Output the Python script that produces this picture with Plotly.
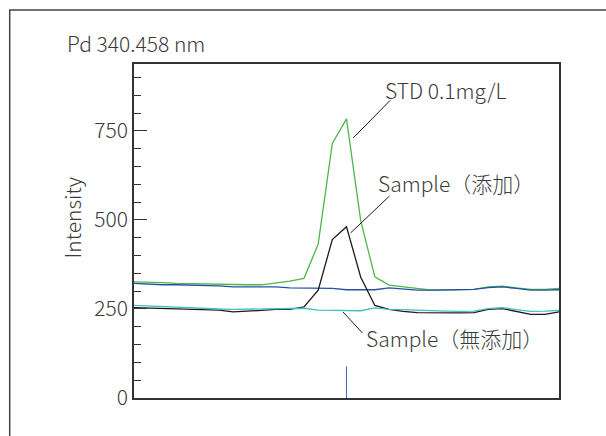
import plotly.graph_objects as go

# ---- data ----
x_idx = list(range(31))
std_01 = [326, 326, 324, 322, 321, 320, 318, 318, 318, 318, 322, 328, 336, 432, 715,
          784, 499, 340, 317, 312, 306, 303, 303, 303, 305, 312, 314, 309, 305, 305, 308]
blank = [322, 319, 318, 318, 317, 317, 315, 312, 312, 312, 312, 309, 308, 308, 308,
         304, 303, 304, 309, 306, 303, 303, 303, 303, 305, 310, 312, 308, 303, 303, 304]
sample_plain = [260, 258, 257, 256, 253, 251, 250, 249, 250, 250, 250, 251, 252, 247, 246,
                245, 245, 253, 249, 248, 246, 245, 244, 243, 244, 251, 254, 248, 243, 244, 246]
sample_spiked = [254, 253, 252, 251, 249, 247, 247, 242, 243, 246, 249, 249, 256, 303, 445,
                 481, 340, 260, 249, 243, 240, 239, 239, 239, 240, 249, 251, 243, 235, 235, 242]
peak_pos_x = [15, 15]
peak_pos_y = [0, 89]
y_major = [0, 250, 500, 750]

W, H = 606, 436
L, R, T, B = 134.3, 559.3, 64, 397.7
FONT = "Noto Sans CJK JP"
TXT = "#3a3a3a"
FS = 21


def px(xp):
    return (xp - L) / (R - L)


def py(yp):
    return (B - yp) / (B - T)


fig = go.Figure()
fig.add_trace(go.Scatter(x=x_idx, y=std_01, mode="lines",
                         line=dict(color="#4db748", width=1.3), hoverinfo="skip"))
fig.add_trace(go.Scatter(x=x_idx, y=blank, mode="lines",
                         line=dict(color="#2451a3", width=1.3), hoverinfo="skip"))
fig.add_trace(go.Scatter(x=x_idx, y=sample_spiked, mode="lines",
                         line=dict(color="#231815", width=1.3), hoverinfo="skip"))
fig.add_trace(go.Scatter(x=x_idx, y=sample_plain, mode="lines",
                         line=dict(color="#3fc1c0", width=1.3), hoverinfo="skip"))
fig.add_trace(go.Scatter(x=peak_pos_x, y=peak_pos_y, mode="lines",
                         line=dict(color="#4a68b8", width=1), hoverinfo="skip"))

shapes = [
    # outer frame
    dict(type="rect", xref="paper", yref="paper", x0=px(10), x1=px(640), y0=py(10), y1=py(470),
         line=dict(color="#444444", width=1.5), layer="below"),
    # leader lines
    dict(type="line", xref="paper", yref="paper", x0=px(353.6), y0=py(137.8), x1=px(390.5), y1=py(100.3),
         line=dict(color="#231815", width=1)),
    dict(type="line", xref="paper", yref="paper", x0=px(351), y0=py(232.7), x1=px(389.7), y1=py(196),
         line=dict(color="#231815", width=1)),
    dict(type="line", xref="paper", yref="paper", x0=px(343.3), y0=py(311.7), x1=px(362.7), y1=py(332.7),
         line=dict(color="#231815", width=1)),
]

annotations = [
    dict(text="Pd 340.458 nm", x=px(65), y=py(43), xanchor="left", yanchor="middle"),
    dict(text="STD 0.1mg/L", x=px(383), y=py(90), xanchor="left", yanchor="middle"),
    dict(text="Sample（添加）", x=px(376), y=py(183), xanchor="left", yanchor="middle"),
    dict(text="Sample（無添加）", x=px(364), y=py(338), xanchor="left", yanchor="middle"),
    dict(text="Intensity", x=px(72.6), y=py(217), xanchor="center", yanchor="middle", textangle=-90),
]
for a in annotations:
    a.update(xref="paper", yref="paper", showarrow=False,
             font=dict(family=FONT, size=FS, color=TXT, weight=300))

fig.update_layout(
    width=W, height=H,
    margin=dict(l=L, r=W - R, t=T, b=H - B, pad=0),
    paper_bgcolor="white", plot_bgcolor="white",
    showlegend=False,
    shapes=shapes,
    annotations=annotations,
    font=dict(family=FONT, size=FS, color=TXT, weight=300),
)
fig.update_xaxes(range=[0, 30], showgrid=False, zeroline=False, showticklabels=False,
                 ticks="", showline=True, mirror=True, linecolor="#333333", linewidth=1.5)
fig.update_yaxes(range=[0, 938], showgrid=False, zeroline=False,
                 tickvals=y_major, ticktext=[str(v) for v in y_major],
                 ticks="inside", ticklen=13, tickwidth=1.3, tickcolor="#333333",
                 minor=dict(dtick=50, tick0=0, ticks="inside", ticklen=7, tickwidth=1.3,
                            tickcolor="#333333", showgrid=False),
                 showline=True, mirror=True, linecolor="#333333", linewidth=1.5,
                 tickfont=dict(family=FONT, size=FS, color=TXT, weight=300), ticklabelstandoff=0)

fig.write_html("out.html", config={"displayModeBar": False},
               post_script="document.body.style.margin='0';")
